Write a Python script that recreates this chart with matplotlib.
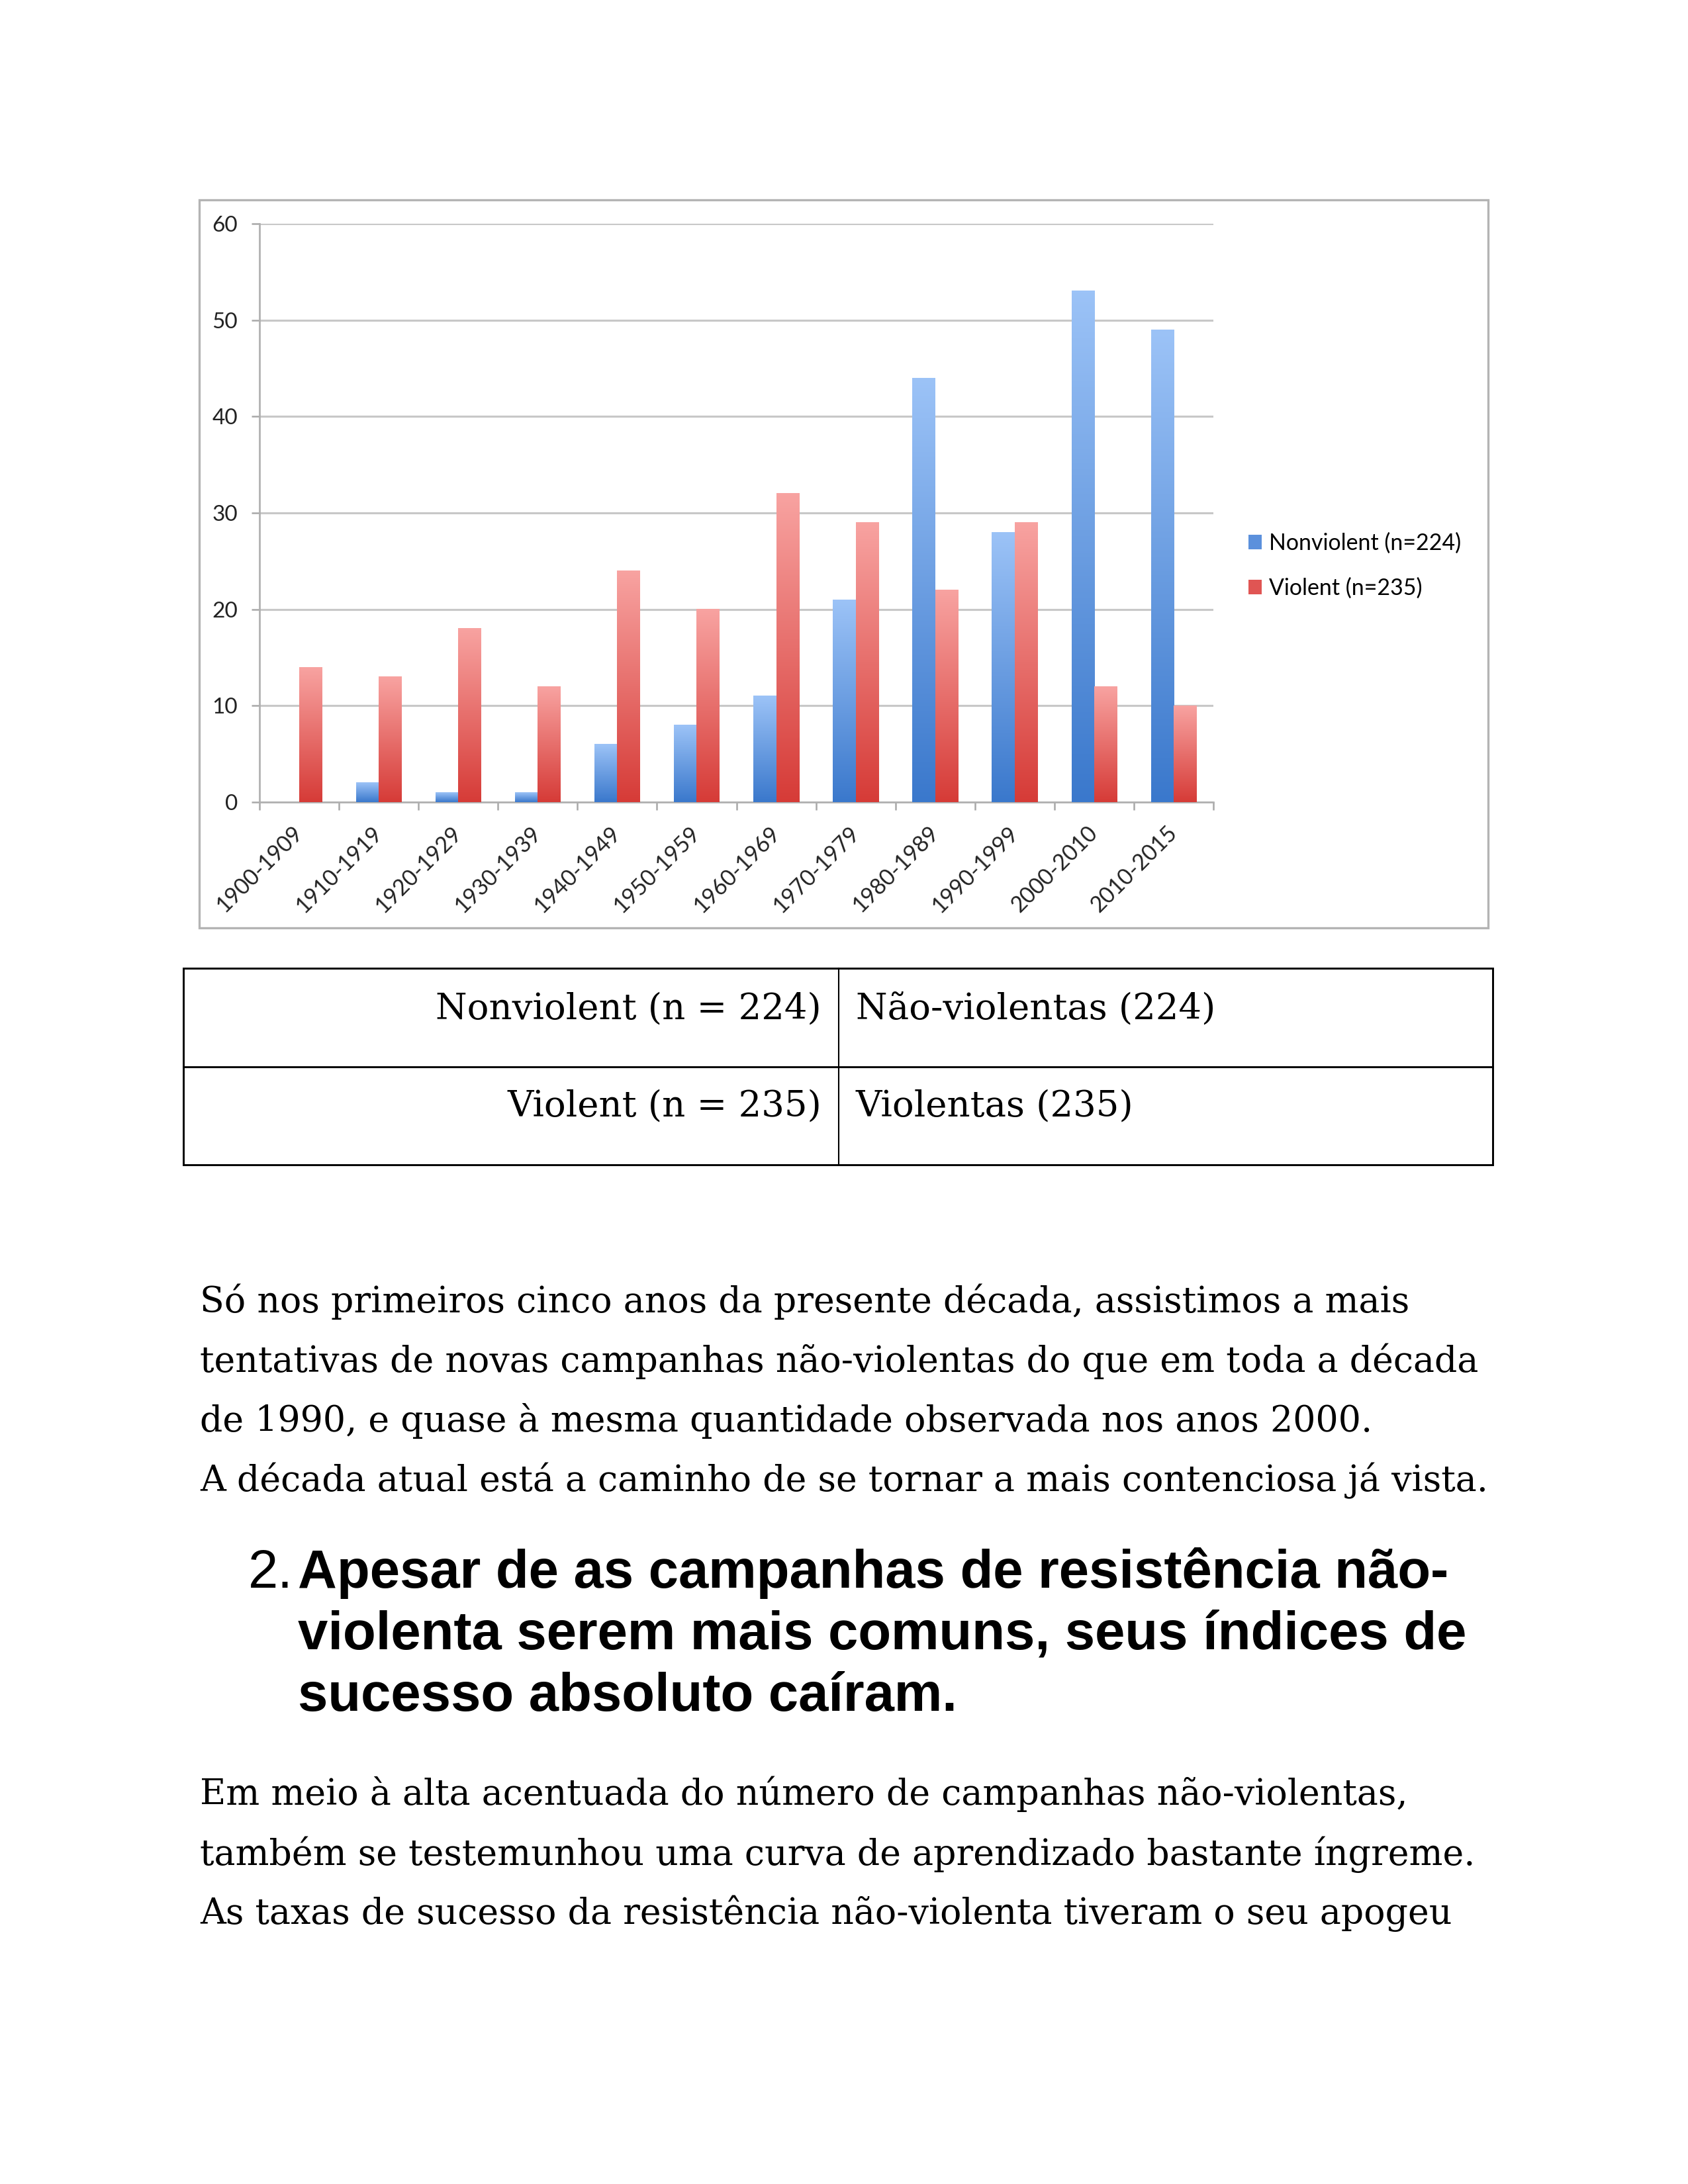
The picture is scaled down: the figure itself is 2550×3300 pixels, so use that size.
import numpy as np
import matplotlib
matplotlib.use('Agg')
import matplotlib.pyplot as plt
from matplotlib.colors import LinearSegmentedColormap
from matplotlib.patches import Patch, Rectangle
from matplotlib.lines import Line2D

# datos del grafico
decadas = ['1900-1909', '1910-1919', '1920-1929', '1930-1939', '1940-1949', '1950-1959',
           '1960-1969', '1970-1979', '1980-1989', '1990-1999', '2000-2010', '2010-2015']
noviolentas = [0, 2, 1, 1, 6, 8, 11, 21, 44, 28, 53, 49]
violentas = [14, 13, 18, 12, 24, 20, 32, 29, 22, 29, 12, 10]
etiquetas = ['Nonviolent (n=224)', 'Violent (n=235)']

# tabla y textos
tabla = [['Nonviolent (n = 224)', 'Não-violentas (224)'],
         ['Violent (n = 235)', 'Violentas (235)']]
parrafo1 = ['Só nos primeiros cinco anos da presente década, assistimos a mais',
            'tentativas de novas campanhas não-violentas do que em toda a década',
            'de 1990, e quase à mesma quantidade observada nos anos 2000.',
            'A década atual está a caminho de se tornar a mais contenciosa já vista.']
titulo_num = '2.'
titulo = ['Apesar de as campanhas de resistência não-',
          'violenta serem mais comuns, seus índices de',
          'sucesso absoluto caíram.']
parrafo2 = ['Em meio à alta acentuada do número de campanhas não-violentas,',
            'também se testemunhou uma curva de aprendizado bastante íngreme.',
            'As taxas de sucesso da resistência não-violenta tiveram o seu apogeu']

W, H = 2550, 3300
def fx(px):
    return px / W
def fy(py):
    return 1 - py / H

fig = plt.figure(figsize=(8.5, 11), dpi=300)
fig.patch.set_facecolor('white')

# marco gris del grafico
fig.add_artist(Rectangle((fx(301), fy(1402)), fx(2248) - fx(301), fy(302) - fy(1402),
                         transform=fig.transFigure, fill=False, edgecolor='#b4b4b4', linewidth=0.8))

ax = fig.add_axes([fx(392), fy(1212), fx(1833) - fx(392), fy(338) - fy(1212)])

azul_top, azul_bot = '#9cc3f7', '#3a78cc'
rojo_top, rojo_bot = '#f8a3a1', '#d63b37'
cmap_azul = LinearSegmentedColormap.from_list('azul', [azul_bot, azul_top])
cmap_rojo = LinearSegmentedColormap.from_list('rojo', [rojo_bot, rojo_top])

x = np.arange(len(decadas))
ancho = 1 / 3.5
b1 = ax.bar(x - ancho / 2, noviolentas, ancho, color='#6a9be0', zorder=2)
b2 = ax.bar(x + ancho / 2, violentas, ancho, color='#e86a68', zorder=2)

# degradado vertical en cada barra
grad = np.linspace(0, 1, 256).reshape(-1, 1)
for barras, cm in [(b1, cmap_azul), (b2, cmap_rojo)]:
    for r in barras:
        if r.get_height() <= 0:
            continue
        ax.imshow(grad, extent=[r.get_x(), r.get_x() + r.get_width(), 0, r.get_height()],
                  aspect='auto', cmap=cm, origin='lower', zorder=3)

ax.set_xlim(-0.5, len(decadas) - 0.5)
ax.set_ylim(0, 60)
ax.set_yticks(range(0, 61, 10))
ax.set_xticks(x)
ax.set_xticks(np.arange(-0.5, len(decadas), 1), minor=True)
ax.set_xticklabels(decadas, rotation=45, ha='right', va='center', rotation_mode='anchor',
                   fontfamily='Lato', fontsize=8.1, color='#222222')
ax.tick_params(axis='x', which='major', length=0, pad=10)
ax.tick_params(axis='x', which='minor', length=2.9, width=0.6, color='#a8a8a8', direction='out')
ax.tick_params(axis='y', length=2.9, width=0.6, color='#a8a8a8', pad=5, labelsize=8,
               labelcolor='#222222')
for t in ax.get_yticklabels():
    t.set_fontfamily('Lato')

ax.grid(axis='y', color='#c8c8c8', linewidth=0.75, zorder=0)
ax.set_axisbelow(True)
for s in ['top', 'right']:
    ax.spines[s].set_visible(False)
for s in ['left', 'bottom']:
    ax.spines[s].set_color('#b0b0b0')
    ax.spines[s].set_linewidth(0.65)

handles = [Patch(facecolor='#5b90dc'), Patch(facecolor='#e05553')]
fig.legend(handles, etiquetas, loc='center left', bbox_to_anchor=(fx(1886), fy(855)),
           frameon=False, borderpad=0, borderaxespad=0, handlelength=0.6, handleheight=0.6,
           handletextpad=0.3, labelspacing=1.05, prop={'family': 'Lato', 'size': 8.15})

# tabla
lw = 0.7
fig.add_artist(Rectangle((fx(277), fy(1760)), fx(2255) - fx(277), fy(1463) - fy(1760),
                         transform=fig.transFigure, fill=False, edgecolor='black', linewidth=lw))
fig.add_artist(Line2D([fx(277), fx(2255)], [fy(1612), fy(1612)], transform=fig.transFigure,
                      color='black', linewidth=lw))
fig.add_artist(Line2D([fx(1267), fx(1267)], [fy(1463), fy(1760)], transform=fig.transFigure,
                      color='black', linewidth=0.5))

serif = 'DejaVu Serif'
tam_tabla = 13.1
tam = 12.9
for fila, base in zip(tabla, [1540, 1687]):
    fig.text(fx(1241), fy(base), fila[0], ha='right', va='baseline', family=serif, fontsize=tam_tabla)
    fig.text(fx(1293), fy(base), fila[1], ha='left', va='baseline', family=serif, fontsize=tam_tabla)

for linea, base in zip(parrafo1, [1983, 2073, 2163, 2253]):
    fig.text(fx(302), fy(base), linea, ha='left', va='baseline', family=serif, fontsize=tam)

fig.text(fx(375), fy(2399), titulo_num, ha='left', va='baseline', family='Liberation Sans',
         fontsize=19.5)
for linea, base in zip(titulo, [2399, 2492, 2585]):
    fig.text(fx(450), fy(base), linea, ha='left', va='baseline', family='Liberation Sans',
             fontweight='bold', fontsize=19.55)

for linea, base in zip(parrafo2, [2727, 2818, 2907]):
    fig.text(fx(302), fy(base), linea, ha='left', va='baseline', family=serif, fontsize=tam)

fig.savefig('out.png', dpi=300)
